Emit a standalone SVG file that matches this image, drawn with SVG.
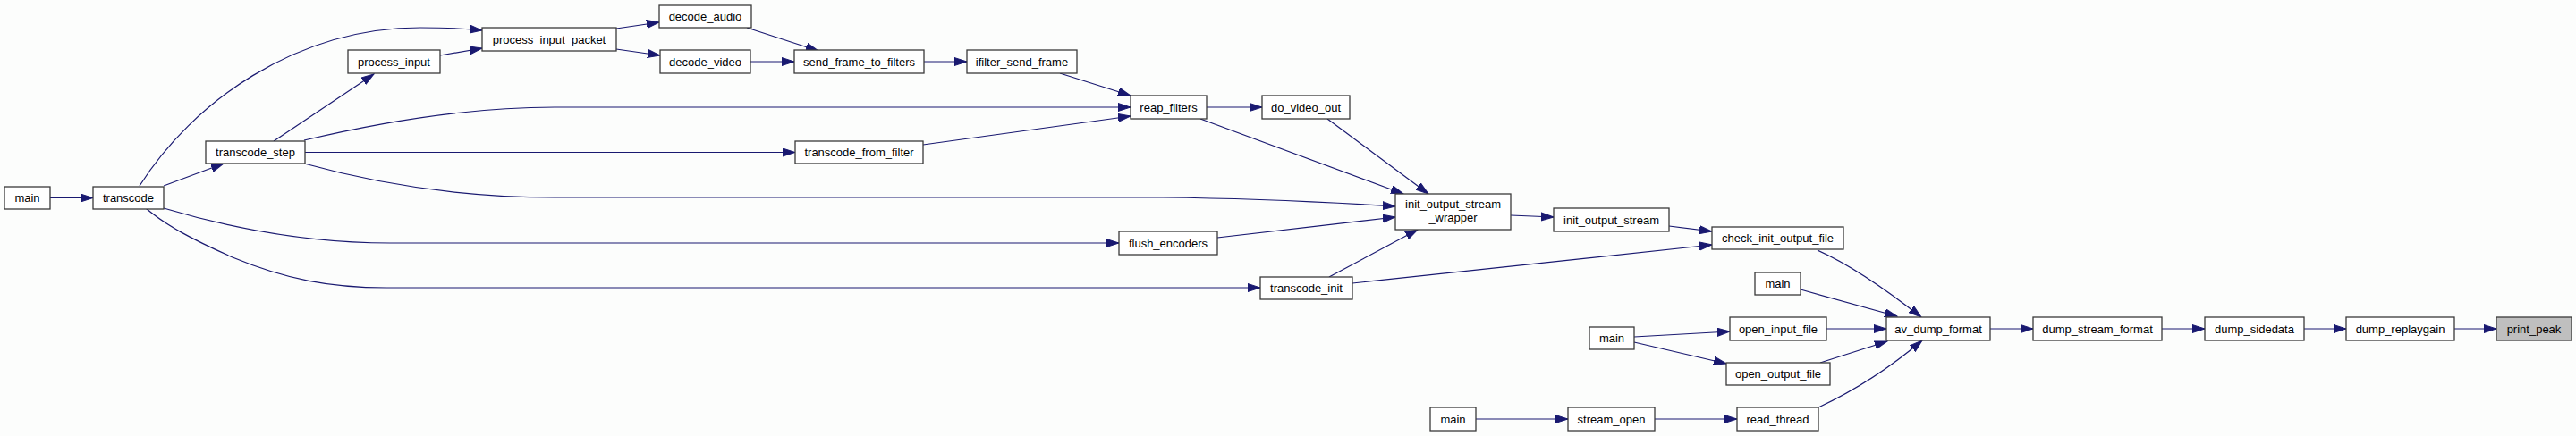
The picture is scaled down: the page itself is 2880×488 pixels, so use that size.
<svg xmlns="http://www.w3.org/2000/svg" width="2880" height="488" viewBox="0 0 2880 488">
<style>
.n rect{fill:#ffffff;stroke:#3a3a3a;stroke-width:1.3}
.n text{font-family:"Liberation Sans",Arial,sans-serif;font-size:13px;fill:#000;text-anchor:middle}
#print_peak rect{fill:#bfbfbf}
.e path{fill:none;stroke:#191970;stroke-width:1.2;marker-end:url(#arr)}
</style>
<defs>
<marker id="arr" markerWidth="15" markerHeight="11" refX="14" refY="5" orient="auto" markerUnits="userSpaceOnUse">
<path d="M0,0.5 L14,5 L0,9.5 z" fill="#191970" stroke="#191970" stroke-width="1"/>
</marker>
</defs>
<rect x="0" y="0" width="2880" height="488" fill="#fcfdfc"/>
<g id="edges" class="e">
<path d="M56,221.5 L104,221.5"/>
<path d="M183,208 L250,183"/>
<path d="M156,208 C215,115 330,31 470,31 C500,31 520,32 539,34"/>
<path d="M492,62 L539,54"/>
<path d="M306,158 L418,83"/>
<path d="M689,32 L737,25"/>
<path d="M689,55 L738,62"/>
<path d="M835,31 L915,57"/>
<path d="M838,69 L888,69"/>
<path d="M1033,69 L1081,69"/>
<path d="M1185,82 L1264,107"/>
<path d="M340,157 C420,138 520,120 620,120 L1264,120"/>
<path d="M341,170.5 L889,170.5"/>
<path d="M1032,162 L1264,130"/>
<path d="M1349,120 L1411,120"/>
<path d="M1342,133 L1569,217"/>
<path d="M1484,133 L1597,217"/>
<path d="M340,183 C430,208 520,221 620,221 L1300,221 C1400,222 1480,226 1560,231"/>
<path d="M183,233 C240,250 330,272 436,272 L1251,272"/>
<path d="M1361,266 L1560,243"/>
<path d="M163,233 C185,252 215,268 260,288 C320,313 370,322 432,322 L1409,322"/>
<path d="M1486,310 L1585,257"/>
<path d="M1689,241 L1737,243"/>
<path d="M1866,253 L1914,259"/>
<path d="M1512,317 L1914,274"/>
<path d="M2032,280 C2070,297 2110,325 2148,355"/>
<path d="M2013,324 L2121,354"/>
<path d="M2042,368 L2109,368"/>
<path d="M1827,377 L1934,371"/>
<path d="M1827,383 L1930,407"/>
<path d="M2035,406 L2110,382"/>
<path d="M2033,456 C2080,434 2115,410 2149,381"/>
<path d="M1650,469 L1753,469"/>
<path d="M1850,469 L1942,469"/>
<path d="M2225,368 L2273,368"/>
<path d="M2417,368 L2465,368"/>
<path d="M2576,368 L2623,368"/>
<path d="M2744,368 L2791,368"/>
</g>
<g id="main_a" class="n"><rect x="5" y="209" width="51" height="25"/><text x="30.5" y="226">main</text></g>
<g id="transcode" class="n"><rect x="104" y="209" width="79" height="25"/><text x="143.5" y="226">transcode</text></g>
<g id="transcode_step" class="n"><rect x="230" y="158" width="111" height="25"/><text x="285.5" y="175">transcode_step</text></g>
<g id="process_input" class="n"><rect x="389" y="56" width="103" height="26"/><text x="440.5" y="73.5">process_input</text></g>
<g id="process_input_packet" class="n"><rect x="539" y="31" width="150" height="26"/><text x="614" y="48.5">process_input_packet</text></g>
<g id="decode_audio" class="n"><rect x="737" y="6" width="103" height="25"/><text x="788.5" y="23">decode_audio</text></g>
<g id="decode_video" class="n"><rect x="738" y="56" width="101" height="26"/><text x="788.5" y="73.5">decode_video</text></g>
<g id="send_frame_to_filters" class="n"><rect x="888" y="56" width="145" height="26"/><text x="960.5" y="73.5">send_frame_to_filters</text></g>
<g id="ifilter_send_frame" class="n"><rect x="1081" y="56" width="123" height="26"/><text x="1142.5" y="73.5">ifilter_send_frame</text></g>
<g id="reap_filters" class="n"><rect x="1264" y="107" width="85" height="26"/><text x="1306.5" y="124.5">reap_filters</text></g>
<g id="do_video_out" class="n"><rect x="1411" y="107" width="98" height="26"/><text x="1460" y="124.5">do_video_out</text></g>
<g id="transcode_from_filter" class="n"><rect x="889" y="158" width="143" height="25"/><text x="960.5" y="175">transcode_from_filter</text></g>
<g id="init_output_stream_wrapper" class="n"><rect x="1560" y="217" width="129" height="40"/><text x="1624.5" y="233">init_output_stream</text><text x="1624.5" y="248">_wrapper</text></g>
<g id="flush_encoders" class="n"><rect x="1251" y="259" width="110" height="26"/><text x="1306" y="276.5">flush_encoders</text></g>
<g id="transcode_init" class="n"><rect x="1409" y="310" width="103" height="25"/><text x="1460.5" y="327">transcode_init</text></g>
<g id="init_output_stream" class="n"><rect x="1737" y="233" width="129" height="26"/><text x="1801.5" y="250.5">init_output_stream</text></g>
<g id="check_init_output_file" class="n"><rect x="1914" y="254" width="147" height="25"/><text x="1987.5" y="271">check_init_output_file</text></g>
<g id="main_b" class="n"><rect x="1962" y="305" width="51" height="25"/><text x="1987.5" y="322">main</text></g>
<g id="open_input_file" class="n"><rect x="1934" y="355" width="108" height="26"/><text x="1988" y="372.5">open_input_file</text></g>
<g id="main_c" class="n"><rect x="1777" y="366" width="50" height="25"/><text x="1802" y="383">main</text></g>
<g id="open_output_file" class="n"><rect x="1930" y="406" width="116" height="25"/><text x="1988" y="423">open_output_file</text></g>
<g id="main_d" class="n"><rect x="1599" y="456" width="51" height="26"/><text x="1624.5" y="473.5">main</text></g>
<g id="stream_open" class="n"><rect x="1753" y="456" width="97" height="26"/><text x="1801.5" y="473.5">stream_open</text></g>
<g id="read_thread" class="n"><rect x="1942" y="456" width="91" height="26"/><text x="1987.5" y="473.5">read_thread</text></g>
<g id="av_dump_format" class="n"><rect x="2109" y="355" width="116" height="26"/><text x="2167" y="372.5">av_dump_format</text></g>
<g id="dump_stream_format" class="n"><rect x="2273" y="355" width="144" height="26"/><text x="2345" y="372.5">dump_stream_format</text></g>
<g id="dump_sidedata" class="n"><rect x="2465" y="355" width="111" height="26"/><text x="2520.5" y="372.5">dump_sidedata</text></g>
<g id="dump_replaygain" class="n"><rect x="2623" y="355" width="121" height="26"/><text x="2683.5" y="372.5">dump_replaygain</text></g>
<g id="print_peak" class="n"><rect x="2791" y="355" width="84" height="26"/><text x="2833" y="372.5">print_peak</text></g>
</svg>
